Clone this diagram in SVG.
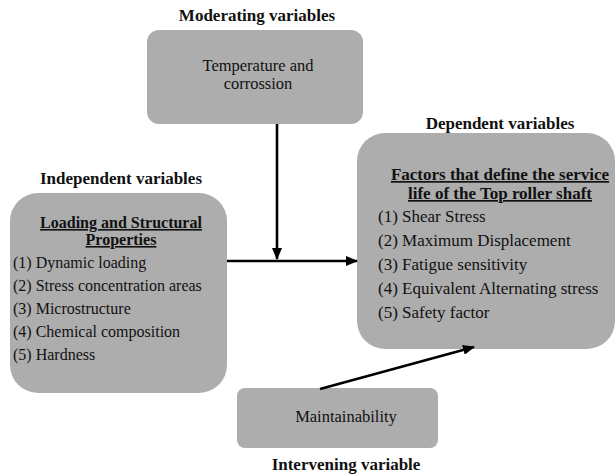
<svg xmlns="http://www.w3.org/2000/svg" width="616" height="476" viewBox="0 0 616 476">
<style>
text{font-family:"Liberation Serif",serif;fill:#111}
.box{fill:#adadad;stroke:none}
.lbl{font-size:17px;font-weight:bold;text-anchor:middle}
.hd{font-weight:bold;text-decoration:underline;text-anchor:middle}
.c{text-anchor:middle}
.conn{stroke:#000;stroke-width:2.6;fill:none}
</style>
<defs>
<marker id="ah" markerUnits="userSpaceOnUse" markerWidth="12" markerHeight="10" refX="11" refY="5" orient="auto">
<path d="M0,0 L12,5 L0,10 Z" fill="#000"/>
</marker>
</defs>
<g id="moderating">
<text class="lbl" x="257" y="21">Moderating variables</text>
<rect class="box" x="147" y="30" width="216" height="94" rx="12"/>
<text class="c" font-size="16.5" x="258" y="71">Temperature and</text>
<text class="c" font-size="16.5" x="258" y="89">corrossion</text>
</g>
<g id="independent">
<text class="lbl" x="121" y="184">Independent variables</text>
<rect class="box" x="10" y="193" width="217" height="200" rx="28"/>
<text class="hd" font-size="16" x="121" y="228">Loading and Structural</text>
<text class="hd" font-size="16" x="121" y="245">Properties</text>
<g font-size="16">
<text x="13" y="268">(1) Dynamic loading</text>
<text x="13" y="291">(2) Stress concentration areas</text>
<text x="13" y="314">(3) Microstructure</text>
<text x="13" y="337">(4) Chemical composition</text>
<text x="13" y="360">(5) Hardness</text>
</g>
</g>
<g id="dependent">
<text class="lbl" x="500" y="129">Dependent variables</text>
<rect class="box" x="357" y="133" width="258" height="216" rx="28"/>
<text class="hd" font-size="17" x="500" y="180">Factors that define the service</text>
<text class="hd" font-size="17" x="500" y="199">life of the Top roller shaft</text>
<g font-size="17">
<text x="378" y="222">(1) Shear Stress</text>
<text x="378" y="246">(2) Maximum Displacement</text>
<text x="378" y="270">(3) Fatigue sensitivity</text>
<text x="378" y="294">(4) Equivalent Alternating stress</text>
<text x="378" y="318">(5) Safety factor</text>
</g>
</g>
<g id="intervening">
<rect class="box" x="237" y="388" width="201" height="60" rx="8"/>
<text class="c" font-size="16.5" x="346" y="422">Maintainability</text>
<text class="lbl" x="346" y="470">Intervening variable</text>
</g>
<g id="connectors">
<line class="conn" x1="277" y1="124" x2="277" y2="259" marker-end="url(#ah)"/>
<line class="conn" x1="227" y1="261" x2="357" y2="261" marker-end="url(#ah)"/>
<line class="conn" x1="320" y1="389" x2="474" y2="347" marker-end="url(#ah)"/>
</g>
</svg>
